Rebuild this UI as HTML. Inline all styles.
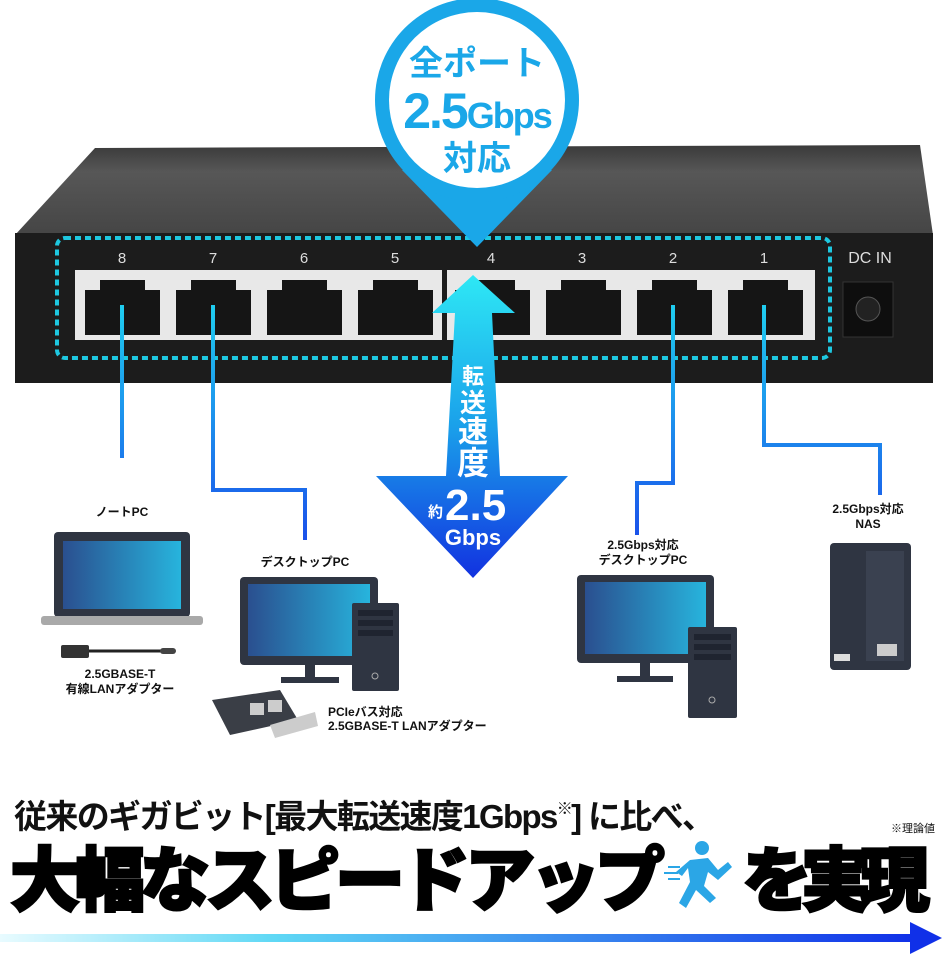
<!DOCTYPE html>
<html><head><meta charset="utf-8">
<style>
body{margin:0;width:948px;height:958px;overflow:hidden;background:#fff;font-family:"Liberation Sans","Noto Sans CJK JP",sans-serif;}
svg{display:block}
</style></head><body>
<svg width="948" height="958" viewBox="0 0 948 958" xmlns="http://www.w3.org/2000/svg" font-family="Liberation Sans, Noto Sans CJK JP, sans-serif">
<defs>
<linearGradient id="top" x1="0" y1="0" x2="0" y2="1"><stop offset="0" stop-color="#3a3a3a"/><stop offset="0.3" stop-color="#575757"/><stop offset="1" stop-color="#454545"/></linearGradient>
<linearGradient id="line" gradientUnits="userSpaceOnUse" x1="0" y1="300" x2="0" y2="540"><stop offset="0" stop-color="#1fd0f0"/><stop offset="1" stop-color="#1a50ea"/></linearGradient>
<linearGradient id="arr" x1="0" y1="0" x2="0" y2="1"><stop offset="0" stop-color="#2ee8f5"/><stop offset="0.5" stop-color="#1aa0ea"/><stop offset="1" stop-color="#1232e0"/></linearGradient>
<linearGradient id="scr" x1="0" y1="0" x2="1" y2="0"><stop offset="0" stop-color="#2a4f8f"/><stop offset="1" stop-color="#27b4dd"/></linearGradient>
<linearGradient id="bar" x1="0" y1="0" x2="1" y2="0"><stop offset="0" stop-color="#e8fbff"/><stop offset="0.3" stop-color="#5fd8f5"/><stop offset="1" stop-color="#1030e8"/></linearGradient>
</defs>
<polygon points="95,148 920,145 933,235 15,235" fill="url(#top)"/>
<rect x="15" y="233" width="918" height="150" fill="#1c1c1c"/>
<rect x="57" y="238" width="773" height="120" rx="8" fill="none" stroke="#1ec8e0" stroke-width="4" stroke-dasharray="6,4"/>
<rect x="75" y="270" width="367" height="70" fill="#e8e8e8"/>
<rect x="447" y="270" width="368" height="70" fill="#e8e8e8"/>
<g fill="#151515">
<path d="M85,290 h15 v-10 h45 v10 h15 v45 h-75z"/>
<path d="M176,290 h15 v-10 h45 v10 h15 v45 h-75z"/>
<path d="M267,290 h15 v-10 h45 v10 h15 v45 h-75z"/>
<path d="M358,290 h15 v-10 h45 v10 h15 v45 h-75z"/>
<path d="M455,290 h15 v-10 h45 v10 h15 v45 h-75z"/>
<path d="M546,290 h15 v-10 h45 v10 h15 v45 h-75z"/>
<path d="M637,290 h15 v-10 h45 v10 h15 v45 h-75z"/>
<path d="M728,290 h15 v-10 h45 v10 h15 v45 h-75z"/>
</g>
<g fill="#ddd" font-size="15" text-anchor="middle">
<text x="122" y="263">8</text><text x="213" y="263">7</text><text x="304" y="263">6</text><text x="395" y="263">5</text>
<text x="491" y="263">4</text><text x="582" y="263">3</text><text x="673" y="263">2</text><text x="764" y="263">1</text>
<text x="870" y="263" font-size="16">DC IN</text>
</g>
<rect x="843" y="282" width="50" height="55" fill="#0e0e0e" stroke="#333"/>
<circle cx="868" cy="309" r="12" fill="#222" stroke="#555"/>
<g fill="none" stroke="url(#line)" stroke-width="4">
<path d="M122,305 V458"/>
<path d="M213,305 V490 H305 V540"/>
<path d="M673,305 V483 H637 V535"/>
<path d="M764,305 V445 H880 V495"/>
</g>
<path d="M473,275 L515,313 L492,313 L500,476 L568,476 L473,578 L376,476 L446,476 L455,313 L432,313Z" fill="url(#arr)"/>
<text x="473" y="384" font-size="22" fill="#fff" text-anchor="middle" font-weight="bold">転</text>
<text x="473" y="412" font-size="26" fill="#fff" text-anchor="middle" font-weight="bold">送</text>
<text x="473" y="442" font-size="30" fill="#fff" text-anchor="middle" font-weight="bold">速</text>
<text x="473" y="474" font-size="32" fill="#fff" text-anchor="middle" font-weight="bold">度</text>
<text x="428" y="517" font-size="15" fill="#fff" font-weight="bold">約</text>
<text x="445" y="520" font-size="44" fill="#fff" font-weight="bold">2.5</text>
<text x="473" y="545" font-size="22" fill="#fff" text-anchor="middle" font-weight="bold">Gbps</text>
<path d="M402,170 L477,247 L552,170Z" fill="#1aa7e8"/>
<circle cx="477" cy="100" r="102" fill="#1aa7e8"/>
<circle cx="477" cy="100" r="88" fill="#fff"/>
<text x="477" y="75" font-size="34" fill="#1aa7e8" text-anchor="middle" font-weight="bold">全ポート</text>
<text x="477" y="128" font-size="50" fill="#1aa7e8" text-anchor="middle" font-weight="bold" letter-spacing="-2">2.5<tspan font-size="36">Gbps</tspan></text>
<text x="477" y="170" font-size="34" fill="#1aa7e8" text-anchor="middle" font-weight="bold">対応</text>
<g font-size="12" font-weight="bold" fill="#111" text-anchor="middle">
<text x="122" y="516">ノートPC</text>
<text x="305" y="566">デスクトップPC</text>
<text x="120" y="678">2.5GBASE-T</text>
<text x="120" y="693">有線LANアダプター</text>
<text x="643" y="549">2.5Gbps対応</text>
<text x="643" y="564">デスクトップPC</text>
<text x="868" y="513">2.5Gbps対応</text>
<text x="868" y="528">NAS</text>
<text x="328" y="716" text-anchor="start">PCIeバス対応</text>
<text x="328" y="730" text-anchor="start">2.5GBASE-T LANアダプター</text>
</g>
<rect x="54" y="532" width="136" height="85" rx="4" fill="#2f3542"/>
<rect x="63" y="541" width="118" height="68" fill="url(#scr)"/>
<rect x="41" y="616" width="162" height="9" rx="3" fill="#a9a9a9"/>
<rect x="61" y="645" width="28" height="13" rx="2" fill="#333"/>
<path d="M89,651 H175" stroke="#222" stroke-width="3"/>
<rect x="160" y="648" width="16" height="6" rx="3" fill="#444"/>
<rect x="240" y="577" width="138" height="88" rx="4" fill="#2f3542"/>
<rect x="248" y="584" width="122" height="72" fill="url(#scr)"/>
<rect x="305" y="665" width="10" height="13" fill="#2f3542"/>
<rect x="281" y="677" width="58" height="6" fill="#2f3542"/>
<rect x="352" y="603" width="47" height="88" rx="2" fill="#2f3542"/>
<rect x="358" y="610" width="35" height="6" fill="#1f2430"/><rect x="358" y="620" width="35" height="6" fill="#1f2430"/><rect x="358" y="630" width="35" height="6" fill="#1f2430"/>
<circle cx="375" cy="676" r="3" fill="none" stroke="#aaa"/>
<polygon points="212,700 280,690 298,720 230,735" fill="#3a3e46"/>
<rect x="250" y="703" width="14" height="12" fill="#ccc"/><rect x="268" y="700" width="14" height="12" fill="#ccc"/>
<polygon points="270,725 315,712 318,726 275,738" fill="#ccc"/>
<rect x="577" y="575" width="137" height="88" rx="4" fill="#2f3542"/>
<rect x="585" y="582" width="121" height="72" fill="url(#scr)"/>
<rect x="640" y="663" width="10" height="14" fill="#2f3542"/>
<rect x="617" y="676" width="56" height="6" fill="#2f3542"/>
<rect x="688" y="627" width="49" height="91" rx="2" fill="#2f3542"/>
<rect x="694" y="634" width="37" height="6" fill="#1f2430"/><rect x="694" y="644" width="37" height="6" fill="#1f2430"/><rect x="694" y="654" width="37" height="6" fill="#1f2430"/>
<circle cx="712" cy="700" r="3" fill="none" stroke="#aaa"/>
<rect x="830" y="543" width="81" height="127" rx="4" fill="#2f3542"/>
<rect x="866" y="551" width="38" height="110" fill="#3a4150"/>
<rect x="877" y="644" width="20" height="12" fill="#ccc"/>
<rect x="834" y="654" width="16" height="7" fill="#ddd"/>
<text x="14" y="828" font-size="33" font-weight="bold" fill="#111" letter-spacing="-1" textLength="700">従来のギガビット[最大転送速度1Gbps<tspan font-size="16" dy="-14">※</tspan><tspan dy="14">] に比べ、</tspan></text>
<text x="935" y="832" font-size="11" fill="#111" text-anchor="end">※理論値</text>
<text x="10" y="905" font-size="70" font-weight="900" fill="#000" letter-spacing="-5" stroke="#000" stroke-width="2.5" textLength="650">大幅なスピードアップ</text>
<text x="742" y="905" font-size="70" font-weight="900" fill="#000" stroke="#000" stroke-width="2.5" textLength="188">を実現</text>
<g fill="#2ba6e6">
<circle cx="702" cy="848" r="7"/>
<path d="M690,860 L708,858 L718,870 L728,862 L732,867 L718,880 L708,872 L704,886 L716,898 L710,903 L696,890 L686,908 L679,903 L690,882 L688,868 L682,876 L676,872Z"/>
<rect x="668" y="866" width="12" height="2"/><rect x="664" y="872" width="14" height="2"/><rect x="668" y="878" width="12" height="2"/>
</g>
<rect x="0" y="934" width="915" height="8" fill="url(#bar)"/>
<polygon points="910,922 942,938 910,954" fill="#1030e8"/>
</svg>
</body></html>
